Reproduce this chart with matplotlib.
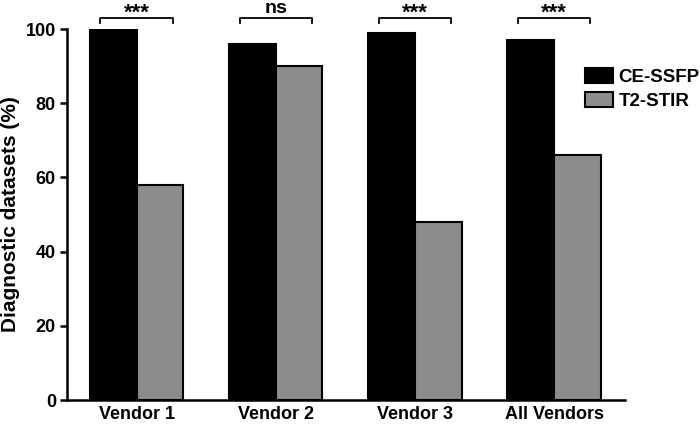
import matplotlib
matplotlib.use("Agg")
import matplotlib.pyplot as plt
import numpy as np

plt.rcParams["font.family"] = ["Liberation Sans", "DejaVu Sans"]
plt.rcParams["font.weight"] = "bold"

# ── data ────────────────────────────────────────────────────────────────────
vendors = ["Vendor 1", "Vendor 2", "Vendor 3", "All Vendors"]
ce_ssfp = [100, 96, 99, 97]
t2_stir = [58, 90, 48, 66]
signif = ["***", "ns", "***", "***"]

BLACK, GREY = "#000000", "#8c8c8c"
W = 0.335

fig = plt.figure(figsize=(7, 4.24), dpi=100)
ax = fig.add_axes([0.0957, 0.0566, 0.893 - 0.0957, 0.9316 - 0.0566])

x = np.arange(len(vendors))
ax.bar(x - W / 2, ce_ssfp, W, color=BLACK, edgecolor="black", linewidth=1.5,
       label="CE-SSFP")
ax.bar(x + W / 2, t2_stir, W, color=GREY, edgecolor="black", linewidth=1.5,
       label="T2-STIR")

# significance brackets above each pair
for xi, s in zip(x, signif):
    x0, x1 = xi - 0.26, xi + 0.26
    yb, yl = 103.0, 101.6
    ax.plot([x0, x0, x1, x1], [yl, yb, yb, yl], color="black", lw=1.3,
            clip_on=False)
    if s == "ns":
        ax.text(xi, yb + 0.2, s, ha="center", va="bottom", fontsize=14,
                fontweight="bold")
    else:
        ax.text(xi, yb - 1.6, s, ha="center", va="bottom", fontsize=16,
                fontweight="bold")

ax.set_xlim(-0.5, 3.51)
ax.set_ylim(0, 100)
ax.set_yticks([0, 20, 40, 60, 80, 100])
ax.set_xticks(x)
ax.set_xticklabels(vendors)
ax.set_ylabel("Diagnostic datasets (%)", fontsize=15, fontweight="bold",
              labelpad=4)

for side in ("top", "right"):
    ax.spines[side].set_visible(False)
for side in ("left", "bottom"):
    ax.spines[side].set_linewidth(1.8)
ax.tick_params(axis="y", length=5, width=1.8, labelsize=13, pad=3)
ax.tick_params(axis="x", length=0, labelsize=13, pad=4)

ax.legend(loc="center left", bbox_to_anchor=(0.822, 0.79),
          bbox_transform=fig.transFigure, frameon=False, fontsize=13.5,
          handlelength=1.5, handleheight=0.85, handletextpad=0.3,
          labelspacing=0.35, borderpad=0)

fig.savefig("out.png", dpi=100)
